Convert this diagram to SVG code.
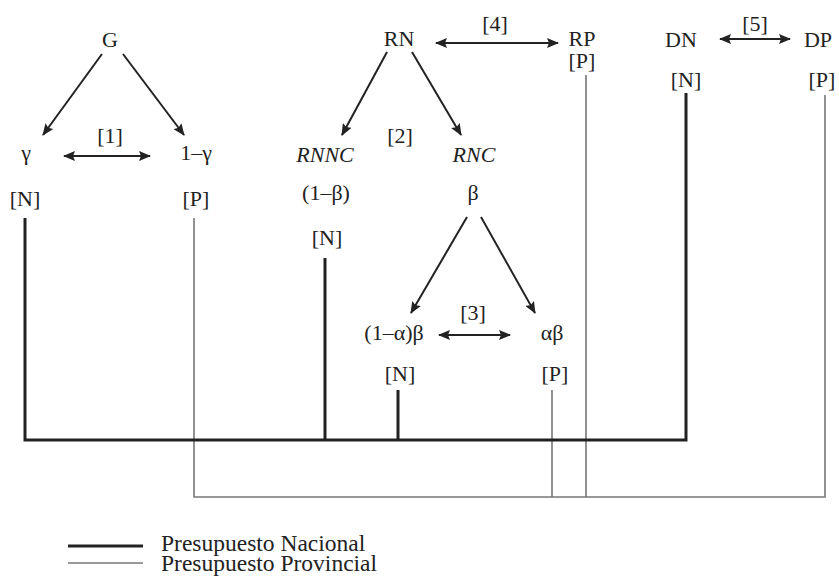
<svg xmlns="http://www.w3.org/2000/svg" width="839" height="577" viewBox="0 0 839 577">
  <style>
    text { font-family: "Liberation Serif", "Times New Roman", serif; font-size: 22px; fill: #222; text-anchor: middle; }
    .it { font-style: italic; }
    .lg { text-anchor: start; font-size: 23.5px; }
    .arr { stroke: #222; stroke-width: 2; fill: none; }
    .nac { stroke: #222; stroke-width: 3; fill: none; }
    .prov { stroke: #777; stroke-width: 1.6; fill: none; }
  </style>
  <defs>
    <marker id="head" viewBox="0 0 12 10" refX="11" refY="5" markerWidth="12" markerHeight="10" markerUnits="userSpaceOnUse" orient="auto-start-reverse">
      <path d="M0,0 L12,5 L0,10 L2,5 z" fill="#222"/>
    </marker>
  </defs>

  <!-- budget lines -->
  <g id="connectors">
    <path class="prov" d="M194,218 V497 H825 V95 M552,390 V497 M586,75 V497"/>
    <path class="nac" d="M25,218 V440 H686 V93 M325,258 V440 M398,390 V440"/>

    <line class="arr" x1="102" y1="54" x2="43" y2="135" marker-end="url(#head)"/>
    <line class="arr" x1="123" y1="54" x2="184" y2="135" marker-end="url(#head)"/>
    <line class="arr" x1="64" y1="156" x2="150" y2="156" marker-start="url(#head)" marker-end="url(#head)"/>

    <line class="arr" x1="387" y1="52" x2="342" y2="135" marker-end="url(#head)"/>
    <line class="arr" x1="412" y1="52" x2="461" y2="135" marker-end="url(#head)"/>
    <line class="arr" x1="436" y1="43" x2="558" y2="43" marker-start="url(#head)" marker-end="url(#head)"/>

    <line class="arr" x1="467" y1="217" x2="411" y2="313" marker-end="url(#head)"/>
    <line class="arr" x1="481" y1="217" x2="535" y2="313" marker-end="url(#head)"/>
    <line class="arr" x1="439" y1="335" x2="510" y2="335" marker-start="url(#head)" marker-end="url(#head)"/>

    <line class="arr" x1="720" y1="39" x2="790" y2="39" marker-start="url(#head)" marker-end="url(#head)"/>
  </g>

  <g id="G"><text x="110" y="47">G</text></g>
  <g id="gamma"><text x="26" y="160">γ</text><text x="25" y="206">[N]</text></g>
  <g id="one-minus-gamma"><text x="196" y="160">1–γ</text><text x="196" y="206">[P]</text></g>
  <g id="label1"><text x="110" y="143">[1]</text></g>

  <g id="RN"><text x="399" y="46">RN</text></g>
  <g id="RP"><text x="582" y="46">RP</text><text x="582" y="68">[P]</text></g>
  <g id="label4"><text x="495" y="31">[4]</text></g>

  <g id="RNNC"><text class="it" x="325" y="162">RNNC</text><text x="326" y="200">(1–β)</text><text x="327" y="245">[N]</text></g>
  <g id="label2"><text x="400" y="143">[2]</text></g>
  <g id="RNC"><text class="it" x="474" y="162">RNC</text><text x="473" y="200">β</text></g>

  <g id="one-minus-alpha-beta"><text x="394" y="340">(1–α)β</text><text x="400" y="381">[N]</text></g>
  <g id="alpha-beta"><text x="552" y="340">αβ</text><text x="555" y="381">[P]</text></g>
  <g id="label3"><text x="473" y="320">[3]</text></g>

  <g id="DN"><text x="681" y="47">DN</text><text x="686" y="87">[N]</text></g>
  <g id="DP"><text x="818" y="47">DP</text><text x="822" y="87">[P]</text></g>
  <g id="label5"><text x="755" y="31">[5]</text></g>

  <!-- legend -->
  <g id="legend">
    <line class="nac" x1="68" y1="546" x2="143" y2="546"/>
    <line class="prov" x1="68" y1="563" x2="143" y2="563"/>
    <text class="lg" x="161" y="551">Presupuesto Nacional</text>
    <text class="lg" x="161" y="571">Presupuesto Provincial</text>
  </g>
</svg>
